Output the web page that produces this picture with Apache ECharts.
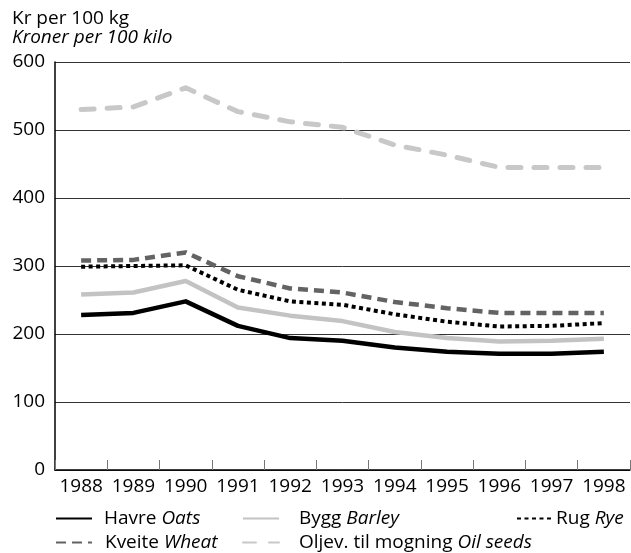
<!DOCTYPE html>
<html>
<head>
<meta charset="utf-8">
<script src="https://cdn.jsdelivr.net/npm/echarts@6/dist/echarts.min.js"></script>
<style>
  html, body { margin: 0; padding: 0; background: #fff; }
  #chart { width: 631px; height: 553px; }
</style>
</head>
<body>
<div id="chart"></div>
<script>
const years = ['1988','1989','1990','1991','1992','1993','1994','1995','1996','1997','1998'];
const yTicks = [0, 100, 200, 300, 400, 500, 600];
const oats   = [228, 231, 248, 212, 194, 190, 180, 174, 171, 171, 174];
const barley = [258, 261, 278, 239, 227, 219, 203, 194, 189, 190, 193];
const rye    = [299, 300, 301, 265, 248, 243, 229, 218, 211, 212, 216];
const wheat  = [308, 309, 320, 285, 267, 261, 247, 238, 231, 231, 231];
const oil    = [530, 534, 562, 527, 512, 504, 478, 463, 445, 445, 445];
const namesNo = ['Havre', 'Bygg', 'Rug', 'Kveite', 'Oljev. til mogning'];
const namesEn = ['Oats', 'Barley', 'Rye', 'Wheat', 'Oil seeds'];
const titleNo = 'Kr per 100 kg';
const titleEn = 'Kroner per 100 kilo';

const FONT = 'Open Sans';
const FS = 19;
const fullName = i => namesNo[i] + ' ' + namesEn[i];

const chart = echarts.init(document.getElementById('chart'), null, { renderer: 'canvas' });

const rich = {
  n: { fontFamily: FONT, fontSize: FS, color: '#000' },
  i: { fontFamily: FONT, fontSize: FS, color: '#000', fontStyle: 'italic' }
};
function legendFor(i, left, top, pad) {
  return {
    data: [fullName(i)],
    left: left, top: top,
    align: 'left',
    itemWidth: 36, itemHeight: 14,
    padding: 0,
    itemStyle: { color: 'rgba(0,0,0,0)', borderWidth: 0, opacity: 0 },
    formatter: () => '{n|' + namesNo[i] + '} {i|' + namesEn[i] + '}',
    textStyle: { fontFamily: FONT, fontSize: FS, color: '#000', rich: rich, padding: [0, 0, 0, pad] },
    selectedMode: false
  };
}

const styles = [
  { color: '#000000', width: 4.5, type: 'solid', cap: 'butt' },
  { color: '#c3c3c3', width: 4.5, type: 'solid', cap: 'butt' },
  { color: '#000000', width: 4, type: [4, 3.5], cap: 'butt' },
  { color: '#636363', width: 4.5, type: [10, 6], cap: 'butt' },
  { color: '#c8c8c8', width: 5, type: [13, 13], cap: 'round' }
];
const datas = [oats, barley, rye, wheat, oil];

const series = datas.map((d, i) => ({
  name: fullName(i),
  type: 'line',
  data: d,
  symbol: 'none',
  showSymbol: false,
  smooth: false,
  animation: false,
  itemStyle: { color: styles[i].color },
  lineStyle: { color: styles[i].color, width: styles[i].width, type: styles[i].type, cap: styles[i].cap, join: 'round' },
  z: 10 - i
}));

chart.setOption({
  animation: false,
  backgroundColor: '#fff',
  title: {
    text: titleNo,
    subtext: titleEn,
    left: 12, top: 10,
    padding: 0,
    itemGap: 0,
    textStyle: { fontFamily: FONT, fontSize: FS, lineHeight: 17, fontWeight: 'normal', color: '#000' },
    subtextStyle: { fontFamily: FONT, fontSize: FS, lineHeight: 17, fontStyle: 'italic', color: '#000' }
  },
  legend: [
    legendFor(0, 55, 509, 7),
    legendFor(1, 242, 509, 15),
    legendFor(2, 516, 509, -2),
    legendFor(3, 55, 533, 8),
    legendFor(4, 242, 533, 15)
  ],
  grid: { left: 55, right: 1, top: 62, bottom: 83, containLabel: false },
  xAxis: {
    type: 'category',
    data: years,
    boundaryGap: true,
    axisLine: { show: true, lineStyle: { color: '#000', width: 1.5 } },
    axisTick: { show: true, inside: true, length: 10, alignWithLabel: false, lineStyle: { color: '#777', width: 1 } },
    axisLabel: { fontFamily: FONT, fontSize: FS, color: '#000', margin: 7, interval: 0 },
    splitLine: { show: false }
  },
  yAxis: {
    type: 'value',
    min: yTicks[0], max: yTicks[yTicks.length - 1], interval: 100,
    axisLine: { show: true, lineStyle: { color: '#000', width: 1.5 } },
    axisTick: { show: false },
    axisLabel: { fontFamily: FONT, fontSize: FS, color: '#000', margin: 10 },
    splitLine: { show: true, lineStyle: { color: '#333', width: 1 } }
  },
  series: series
});
</script>
</body>
</html>
